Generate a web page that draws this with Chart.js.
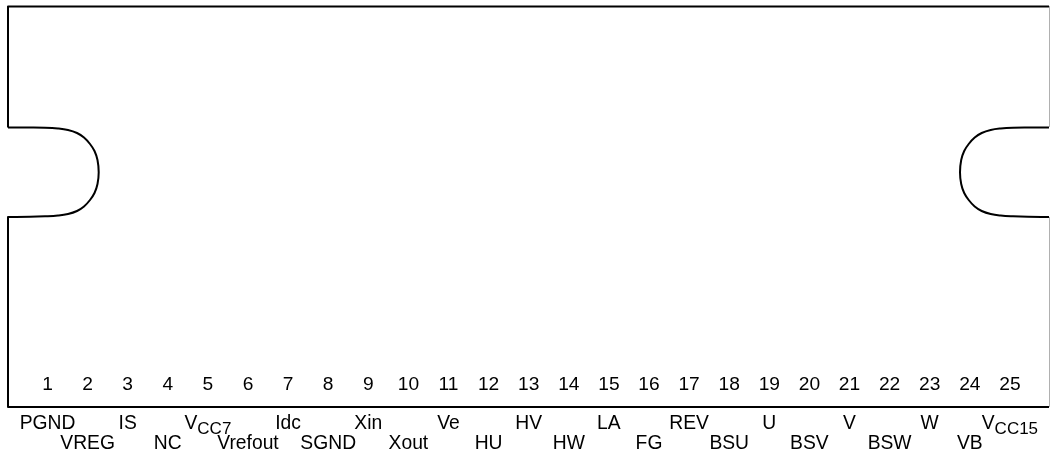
<!DOCTYPE html>
<html><head><meta charset="utf-8">
<script src="https://cdn.jsdelivr.net/npm/chart.js@4"></script>
<style>html,body{margin:0;padding:0;background:#fff}canvas{display:block}</style>
</head><body><canvas id="c" width="1050" height="455"></canvas>
<script>
const pinNumbers = [1,2,3,4,5,6,7,8,9,10,11,12,13,14,15,16,17,18,19,20,21,22,23,24,25];
const pinNames = ['PGND','VREG','IS','NC','V|CC7','Vrefout','Idc','SGND','Xin','Xout','Ve','HU','HV','HW','LA','FG','REV','BSU','U','BSV','V','BSW','W','VB','V|CC15'];
const leftUpperEdgeX = [8,8,1049];
const leftUpperEdgeY = [127.5,6.5,6.5];
const leftLowerEdgeX = [8,8,1049];
const leftLowerEdgeY = [217,407,407];
const leftNotchX = [8,30,45,58,68,77,84,90,94.5,97.5,98.7,97.5,94.5,90,84,77,68,58,45,30,8];
const leftNotchY = [127.5,127.5,127.7,128.5,130,133,137.5,144,151,160,172.2,184,193,200,206.5,211,214,215.5,216.3,216.8,217];
const rightNotchX = [1049,1028,1013,1000.7,990.7,981.7,974.7,968.7,964.2,961.2,960,961.2,964.2,968.7,974.7,981.7,990.7,1000.7,1013,1028,1049];
const rightNotchY = [127.5,127.5,127.7,128.5,130,133,137.5,144,151,160,172.2,184,193,200,206.5,211,214,215.5,216.3,216.8,217];
const rightEdgeTopX = [1049.5,1049.5];
const rightEdgeTopY = [6,127];
const rightEdgeBottomX = [1049.5,1049.5];
const rightEdgeBottomY = [217,407];

const xy = (xs, ys) => xs.map((x, i) => ({x, y: ys[i]}));
const line = (xs, ys, color, w, curve) => ({data: xy(xs, ys), borderColor: color, borderWidth: w, showLine: true, pointRadius: 0, tension: curve ? 0.4 : 0, fill: false, clip: false, borderJoinStyle: 'round'});

const NAME_FONT = '19.3px "Liberation Sans"';
const NUM_FONT = '19.2px "Liberation Sans"';
const SUB_FONT = '17px "Liberation Sans"';

const pinLabels = {
  id: 'pinLabels',
  afterDatasetsDraw(chart) {
    const {ctx, scales} = chart;
    const pinX = n => scales.xPin.getPixelForValue(n);
    ctx.save();
    ctx.fillStyle = '#000';
    ctx.textBaseline = 'alphabetic';
    ctx.textAlign = 'center';
    ctx.font = NUM_FONT;
    pinNumbers.forEach(n => ctx.fillText(String(n), pinX(n), scales.y.getPixelForValue(390)));
    pinNames.forEach((name, i) => {
      const cx = pinX(pinNumbers[i]);
      const rowY = scales.y.getPixelForValue(i % 2 === 0 ? 429 : 449);
      const [main, sub] = name.split('|');
      if (sub) {
        ctx.font = NAME_FONT;
        const mw = ctx.measureText(main).width;
        ctx.font = SUB_FONT;
        const sw = ctx.measureText(sub).width;
        const x0 = cx - (mw + sw) / 2;
        ctx.textAlign = 'left';
        ctx.font = NAME_FONT;
        ctx.fillText(main, x0, rowY);
        ctx.font = SUB_FONT;
        ctx.fillText(sub, x0 + mw, rowY + 5);
        ctx.textAlign = 'center';
      } else {
        ctx.font = NAME_FONT;
        ctx.fillText(main, cx, rowY);
      }
    });
    ctx.restore();
  }
};

new Chart(document.getElementById('c'), {
  type: 'scatter',
  data: {datasets: [
    line(leftUpperEdgeX, leftUpperEdgeY, '#000', 2),
    line(leftLowerEdgeX, leftLowerEdgeY, '#000', 2),
    line(leftNotchX, leftNotchY, '#000', 2, true),
    line(rightNotchX, rightNotchY, '#000', 2, true),
    line(rightEdgeTopX, rightEdgeTopY, '#b0b0b0', 1),
    line(rightEdgeBottomX, rightEdgeBottomY, '#b0b0b0', 1)
  ]},
  options: {
    responsive: false, animation: false, devicePixelRatio: 1,
    layout: {padding: 0},
    plugins: {legend: {display: false}, tooltip: {enabled: false}, title: {display: false}},
    scales: {
      x: {type: 'linear', min: 0, max: 1050, display: false},
      y: {type: 'linear', min: 0, max: 455, reverse: true, display: false},
      xPin: {type: 'linear', axis: 'x', min: -0.1845, max: 26.0, display: false}
    }
  },
  plugins: [pinLabels]
});
</script></body></html>
